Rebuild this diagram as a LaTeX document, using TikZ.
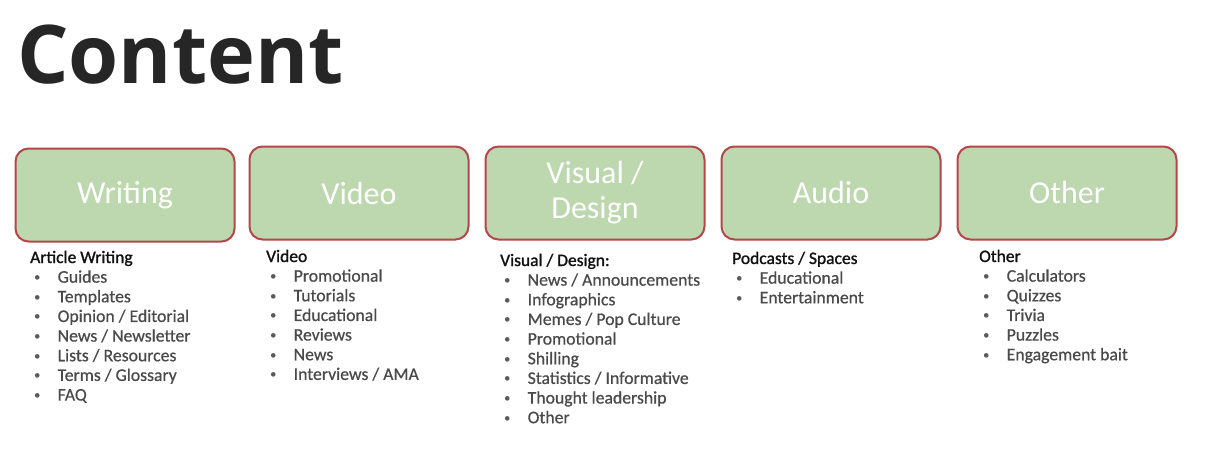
\documentclass[tikz,border=0pt]{standalone}
\usepackage{fontspec}
\setmainfont{Carlito}
\newfontfamily\titlefont{Open Sans}
\newfontfamily\itemfont[FakeBold=0.6]{Carlito}
\newfontfamily\headfont[FakeBold=1.2]{Carlito}
\newfontfamily\bulletfont{Carlito}
\definecolor{boxfill}{HTML}{BDD7AE}
\definecolor{boxline}{HTML}{B5474B}
\definecolor{titlecol}{HTML}{262626}
\definecolor{headcol}{HTML}{111111}
\definecolor{itemcol}{HTML}{4A4A4A}
\definecolor{bulletcol}{HTML}{5A5A5A}
\tikzset{
  catbox/.style={draw=boxline, line width=2pt, fill=boxfill, rounded corners=13pt,
    minimum width=219pt, minimum height=93pt, inner sep=0pt, text=white,
    align=center, font=\fontsize{32}{35}\selectfont},
  listhead/.style={anchor=base west, inner sep=0pt, text=headcol,
    font=\headfont\fontsize{17.5}{19}\selectfont},
  listitem/.style={anchor=base west, inner sep=0pt, text=itemcol,
    font=\itemfont\fontsize{17.7}{19}\selectfont},
}
\newcommand{\smallbullet}{\makebox[24.5pt][l]{\hspace{1pt}\raisebox{1pt}{\color{bulletcol}\bulletfont\fontsize{13}{13}\selectfont\textbullet}}}
\newcommand{\contentlist}[5]{%
  \node[listhead] (#1h) at (#2,#3) {#4};
  \foreach \t [count=\i] in {#5} {
    \node[listitem] (#1\i) at (#2+3,#3+\i*19.65) {\smallbullet\t};
  }%
}
\begin{document}
\begin{tikzpicture}[x=1pt,y=-1pt]
\useasboundingbox (0,0) rectangle (1214,460);
\fill[white] (0,0) rectangle (1214,460);
\node[anchor=base west, inner sep=0pt, text=titlecol, font=\titlefont\bfseries\fontsize{81}{90}\selectfont] (title) at (17,83) {Content};
\node[catbox] (writing) at (125,195) {Writing};
\node[catbox] (video) at (359,193) {Video};
\node[catbox] (visual) at (595,193) {Visual /\\Design};
\node[catbox] (audio) at (831,193) {Audio};
\node[catbox] (other) at (1067,193) {Other};
\contentlist{w}{30}{263}{Article Writing}{Guides,Templates,Opinion / Editorial,News / Newsletter,Lists / Resources,Terms / Glossary,FAQ}
\contentlist{v}{266}{262}{Video}{Promotional,Tutorials,Educational,Reviews,News,Interviews / AMA}
\contentlist{d}{500}{266}{Visual / Design:}{News / Announcements,Infographics,Memes / Pop Culture,Promotional,Shilling,Statistics / Informative,Thought leadership,Other}
\contentlist{a}{732}{264}{Podcasts / Spaces}{Educational,Entertainment}
\contentlist{o}{979}{262}{Other}{Calculators,Quizzes,Trivia,Puzzles,Engagement bait}
\end{tikzpicture}
\end{document}
